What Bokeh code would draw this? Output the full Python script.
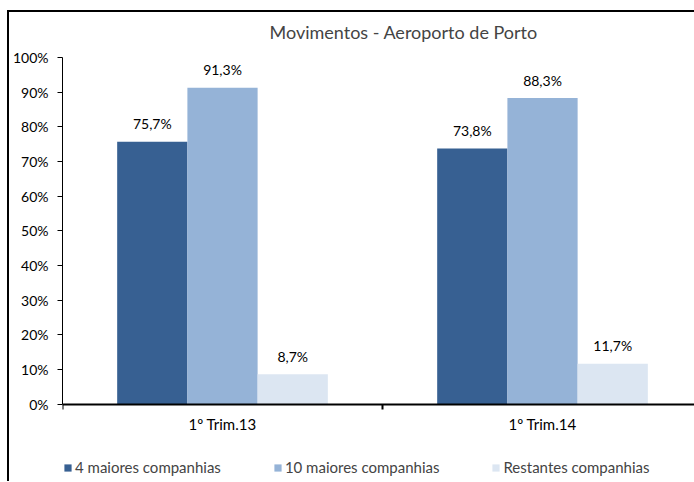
from bokeh.plotting import figure
from bokeh.models import (Range1d, FixedTicker, ColumnDataSource, Legend, LegendItem,
                          PrintfTickFormatter, LabelSet)
from bokeh.core.properties import value
from bokeh.embed import file_html
from bokeh.resources import INLINE

# ---- data ----
categories = ["1º Trim.13", "1º Trim.14"]
series_names = ["4 maiores companhias", "10 maiores companhias", "Restantes companhias"]
maiores4 = [75.7, 73.8]
maiores10 = [91.3, 88.3]
restantes = [8.7, 11.7]
y_ticks = [0, 10, 20, 30, 40, 50, 60, 70, 80, 90, 100]

series_values = [maiores4, maiores10, restantes]
colors = ["#376092", "#95B3D7", "#DCE6F2"]

FONT = "Lato"
W, H = 685, 469
LEFT, TOP = 53, 35          # frame left / top in canvas pixels
Y100_PX, ZERO_PX = 44, 390  # canvas y of the 100% and 0% lines
cat_px = 319.0
bar_w = 70.0 / cat_px
px_per_unit = (ZERO_PX - Y100_PX) / 100.0
y_max = 100.0 + (Y100_PX - TOP) / px_per_unit
y_min = -(H - ZERO_PX) / px_per_unit

p = figure(width=W, height=H, output_backend="svg", toolbar_location=None,
           x_range=Range1d(0, (W - LEFT) / cat_px), y_range=Range1d(y_min, y_max),
           min_border_left=LEFT, min_border_top=TOP, min_border_bottom=0,
           min_border_right=0,
           styles={"margin-left": "7px", "margin-top": "10px",
                   "border-left": "2px solid black", "border-top": "2px solid black",
                   "border-right": "0px none", "border-bottom": "0px none",
                   "box-sizing": "content-box"})

p.title.text = "Movimentos - Aeroporto de Porto"
p.title.text_font = FONT
p.title.text_font_size = "18px"
p.title.text_font_style = "normal"
p.title.align = "left"
p.title.offset = 207
p.title.standoff = 12

p.grid.visible = False
p.outline_line_color = None
p.border_fill_color = "white"

renderers = []
for k, (name, vals) in enumerate(zip(series_names, series_values)):
    xs = [i + 0.5 + (k - 1) * bar_w for i in range(len(categories))]
    src = ColumnDataSource(dict(
        x=xs, top=vals,
        txt=[("%.1f" % v).replace(".", ",") + "%" for v in vals]))
    r = p.vbar(x="x", top="top", width=bar_w, bottom=0, source=src,
               fill_color=colors[k], line_color=None)
    renderers.append((name, r))
    p.add_layout(LabelSet(x="x", y="top", text="txt", source=src,
                          y_offset=18, text_align="center",
                          text_baseline="middle", text_font=value(FONT),
                          text_font_size=value("14px"), text_color="black"))

# x axis at 0%: category labels at centres, tick marks between categories
xa = p.xaxis[0]
xa.fixed_location = 0
xa.ticker = FixedTicker(ticks=[i + 0.5 for i in range(len(categories))],
                        minor_ticks=list(range(len(categories) + 1)))
xa.major_label_overrides = {i + 0.5: c for i, c in enumerate(categories)}
xa.major_tick_out = 0
xa.major_tick_in = 0
xa.minor_tick_out = 5
xa.minor_tick_in = 0
xa.minor_tick_line_width = 2
xa.axis_line_width = 2
xa.axis_line_color = "black"
xa.major_label_standoff = 6
xa.major_label_text_font = FONT
xa.major_label_text_font_size = "15px"
xa.major_label_text_color = "black"

ya = p.yaxis[0]
ya.bounds = (0, 100)
ya.ticker = FixedTicker(ticks=y_ticks, minor_ticks=[])
ya.formatter = PrintfTickFormatter(format="%d%%")
ya.major_tick_out = 5
ya.major_tick_in = 0
ya.axis_line_color = "black"
ya.major_tick_line_color = "black"
ya.major_label_standoff = 9
ya.major_label_text_font = FONT
ya.major_label_text_font_size = "14px"
ya.major_label_text_color = "black"

legend = Legend(items=[LegendItem(label=n, renderers=[r]) for n, r in renderers],
                orientation="horizontal", location=(1, 7),
                glyph_width=9, glyph_height=9, label_standoff=3, spacing=52,
                padding=0, margin=0, border_line_color=None,
                background_fill_alpha=0, label_text_font=FONT,
                label_text_font_size="15px", label_height=9)
p.add_layout(legend, "center")

open("out.html", "w").write(file_html(p, INLINE))
